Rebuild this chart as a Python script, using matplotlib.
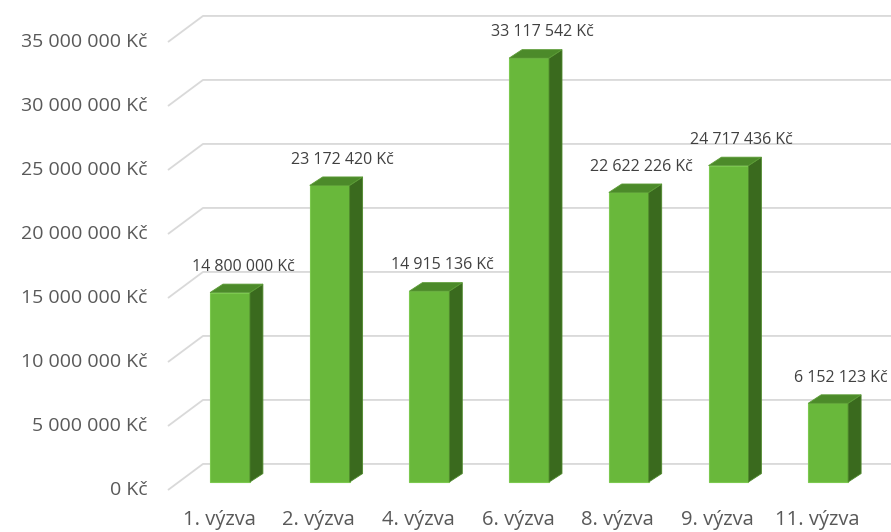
import matplotlib.pyplot as plt
from matplotlib.patches import Polygon

# data
categories = ["1. výzva", "2. výzva", "4. výzva", "6. výzva", "8. výzva", "9. výzva", "11. výzva"]
values = [14800000, 23172420, 14915136, 33117542, 22622226, 24717436, 6152123]
y_ticks = [0, 5000000, 10000000, 15000000, 20000000, 25000000, 30000000, 35000000]


def fmt(v):
    return "{:,}".format(v).replace(",", " ") + " Kč"


plt.rcParams['font.family'] = ['Open Sans', 'DejaVu Sans']

fig = plt.figure(figsize=(8.91, 5.32), dpi=100)
ax = fig.add_axes([0, 0, 1, 1])
ax.set_xlim(-2.307, 6.630)
ax.set_ylim(-3.906e6, 37.656e6)
ax.axis("off")

# fake 3D geometry (in data units)
bar_w = 0.40
dep_x, dep_y = 0.13, 0.66e6
grid_x0, grid_dy0 = -0.622, -0.625e6
grid_x1, grid_dy1 = -0.271, 1.41e6

for t in y_ticks:
    ax.plot([grid_x0, grid_x1, 6.63], [t + grid_dy0, t + grid_dy1, t + grid_dy1],
            color="#d9d9d9", lw=1.3, zorder=1, solid_capstyle="butt")
    ax.text(-0.83, t + grid_dy0, fmt(t), ha="right", va="center",
            fontsize=14, color="#595959")

for i, v in enumerate(values):
    x0 = i - bar_w / 2
    x1 = i + bar_w / 2
    front = [(x0, 0), (x1, 0), (x1, v), (x0, v)]
    side = [(x1, 0), (x1 + dep_x, dep_y), (x1 + dep_x, v + dep_y), (x1, v)]
    top = [(x0, v), (x1, v), (x1 + dep_x, v + dep_y), (x0 + dep_x, v + dep_y)]
    ax.add_patch(Polygon(front, closed=True, facecolor="#69b83b", edgecolor="#7cc94f", lw=0.8, zorder=3))
    ax.add_patch(Polygon(side, closed=True, facecolor="#3a6a1e", edgecolor="#4f8a2c", lw=0.6, zorder=3))
    ax.add_patch(Polygon(top, closed=True, facecolor="#4c8a2a", edgecolor="#5c9c36", lw=0.6, zorder=3))
    ax.text(i + 0.13, v + 2.0e6, fmt(v), ha="center", va="center",
            fontsize=11.5, color="#404040", zorder=4)
    ax.text(i - 0.11, -2.95e6, categories[i], ha="center", va="center",
            fontsize=14.5, color="#595959")

fig.savefig("out.png", dpi=100)
